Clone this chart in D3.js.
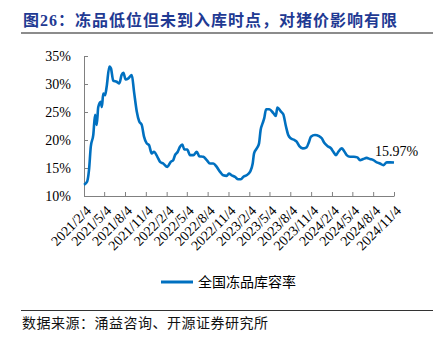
<!DOCTYPE html>
<html><head><meta charset="utf-8">
<script src="https://cdn.jsdelivr.net/npm/d3@7"></script>
<style>
body{margin:0;background:#fff;}
svg{display:block;}
</style></head><body>
<svg id="c" width="442" height="338"></svg>
<script>
const titleText = "图26：冻品低位但未到入库时点，对猪价影响有限";
const seriesName = "全国冻品库容率";
const sourceText = "数据来源：涌益咨询、开源证券研究所";
const lastLabel = "15.97%";
const dates = ["2021-02-04","2021-02-18","2021-02-26","2021-03-06","2021-03-17","2021-03-25","2021-04-01","2021-04-08","2021-04-19","2021-04-24","2021-04-30","2021-05-08","2021-05-15","2021-05-27","2021-06-03","2021-06-13","2021-06-28","2021-07-10","2021-07-20","2021-07-28","2021-08-07","2021-08-19","2021-09-03","2021-09-13","2021-09-25","2021-10-06","2021-10-17","2021-10-27","2021-11-08","2021-11-18","2021-11-30","2021-12-10","2021-12-25","2022-01-06","2022-01-20","2022-02-07","2022-02-22","2022-03-05","2022-03-13","2022-03-25","2022-04-04","2022-04-14","2022-04-23","2022-05-06","2022-05-18","2022-06-02","2022-06-17","2022-06-28","2022-07-16","2022-07-31","2022-08-14","2022-08-29","2022-09-13","2022-09-28","2022-10-12","2022-10-27","2022-11-06","2022-11-18","2022-12-03","2022-12-17","2022-12-29","2023-01-08","2023-01-23","2023-02-07","2023-02-19","2023-02-25","2023-03-09","2023-03-19","2023-03-26","2023-04-04","2023-04-11","2023-04-19","2023-05-03","2023-05-21","2023-06-01","2023-06-08","2023-06-23","2023-07-04","2023-07-16","2023-07-26","2023-08-06","2023-08-22","2023-09-01","2023-09-13","2023-09-28","2023-10-15","2023-10-26","2023-11-03","2023-11-21","2023-12-09","2023-12-21","2024-01-01","2024-01-16","2024-01-31","2024-02-10","2024-02-22","2024-03-03","2024-03-18","2024-03-29","2024-04-09","2024-04-24","2024-05-11","2024-05-26","2024-06-07","2024-06-21","2024-07-06","2024-07-21","2024-08-05","2024-08-20","2024-09-03","2024-09-18","2024-10-03","2024-10-17","2024-11-04"];
const values = [12.0,12.6,14.6,18.8,20.9,24.5,22.7,25.9,26.8,25.9,28.3,28.0,29.5,33.1,32.8,30.6,30.4,30.1,31.6,32.0,30.8,31.0,31.6,28.6,25.1,23.3,22.7,20.6,19.4,19.1,17.6,17.9,17.0,16.1,15.8,15.2,16.1,16.4,17.3,17.9,18.8,19.2,18.3,18.3,17.3,17.3,17.9,17.1,17.0,16.4,15.8,15.8,15.2,14.3,13.7,13.6,14.0,13.7,13.4,13.0,13.0,13.4,13.7,14.3,15.8,17.6,18.5,19.4,21.8,23.0,23.9,25.5,25.5,24.8,24.3,25.8,25.1,24.6,22.4,20.9,20.3,20.0,19.7,18.9,18.5,18.7,19.7,20.6,20.9,20.7,20.3,19.5,18.9,18.5,17.9,17.3,17.9,18.5,18.0,17.3,17.0,17.0,16.9,16.4,16.6,16.8,16.6,16.4,16.0,15.8,15.5,16.0,16.0,15.97];
const xTickDates = ["2021-02-04","2021-05-04","2021-08-04","2021-11-04","2022-02-04","2022-05-04","2022-08-04","2022-11-04","2023-02-04","2023-05-04","2023-08-04","2023-11-04","2024-02-04","2024-05-04","2024-08-04","2024-11-04"];
const xTickLabels = ["2021/2/4","2021/5/4","2021/8/4","2021/11/4","2022/2/4","2022/5/4","2022/8/4","2022/11/4","2023/2/4","2023/5/4","2023/8/4","2023/11/4","2024/2/4","2024/5/4","2024/8/4","2024/11/4"];
const yTicks = [10,15,20,25,30,35];

const parse = d3.timeParse("%Y-%m-%d");
const data = dates.map((d,i)=>({date:parse(d), v:values[i]}));
const svg = d3.select("#c");
const serif = "'Liberation Serif','Times New Roman',serif";
const cjk = "'Liberation Serif','Noto Sans CJK SC',sans-serif";
const blue = "#0070c0";

// title
svg.append("text").attr("x",23).attr("y",26)
  .attr("font-family",cjk).attr("font-weight","bold").attr("font-size",16)
  .attr("letter-spacing",1).attr("fill","#1f3a93").text(titleText);
svg.append("line").attr("x1",21).attr("x2",433).attr("y1",33).attr("y2",33)
  .attr("stroke","#8c8c8c").attr("stroke-width",2);

const x = d3.scaleTime().domain([parse(xTickDates[0]), parse(xTickDates[xTickDates.length-1])]).range([84,394]);
const y = d3.scaleLinear().domain([10,35]).range([196,56]);

// y axis
const ya = svg.append("g").attr("transform","translate(84,0)")
  .call(d3.axisRight(y).tickValues(yTicks).tickSize(4).tickFormat(d=>d+"%"));
ya.select(".domain").attr("stroke","#808080");
ya.selectAll(".tick line").attr("stroke","#808080");
ya.selectAll(".tick text").attr("x",-13).attr("text-anchor","end")
  .attr("font-family",serif).attr("font-size",14).attr("fill","#000");

// x axis
const xa = svg.append("g").attr("transform","translate(0,196)")
  .call(d3.axisTop(x).tickValues(xTickDates.map(parse)).tickSize(4).tickSizeOuter(0)
  .tickFormat((d,i)=>xTickLabels[i]));
xa.select(".domain").attr("stroke","#808080");
xa.selectAll(".tick line").attr("stroke","#808080");
xa.selectAll(".tick text")
  .attr("font-family",serif).attr("font-size",14).attr("fill","#000")
  .attr("text-anchor","end").attr("y",0).attr("dy","0.35em")
  .attr("transform","translate(4,12) rotate(-45)");

// line
const line = d3.line().x(d=>x(d.date)).y(d=>y(d.v)).curve(d3.curveMonotoneX);
svg.append("path").datum(data).attr("d",line).attr("fill","none")
  .attr("stroke",blue).attr("stroke-width",2.6).attr("stroke-linejoin","round");

// end label
const last = data[data.length-1];
svg.append("text").attr("x",x(last.date)-19).attr("y",y(last.v)-7)
  .attr("font-family",serif).attr("font-size",14).attr("fill","#000").text(lastLabel);

// legend
svg.append("line").attr("x1",161).attr("x2",193).attr("y1",282).attr("y2",282)
  .attr("stroke",blue).attr("stroke-width",3);
svg.append("text").attr("x",198).attr("y",287).attr("font-family","'Noto Sans CJK SC',sans-serif")
  .attr("font-size",14).attr("fill","#000").text(seriesName);

// source
svg.append("line").attr("x1",21).attr("x2",433).attr("y1",310.5).attr("y2",310.5)
  .attr("stroke","#333").attr("stroke-width",1);
svg.append("text").attr("x",22).attr("y",328).attr("font-family","'Noto Sans CJK SC',sans-serif")
  .attr("font-size",14).attr("letter-spacing",0.5).attr("fill","#111").text(sourceText);
</script></body></html>
